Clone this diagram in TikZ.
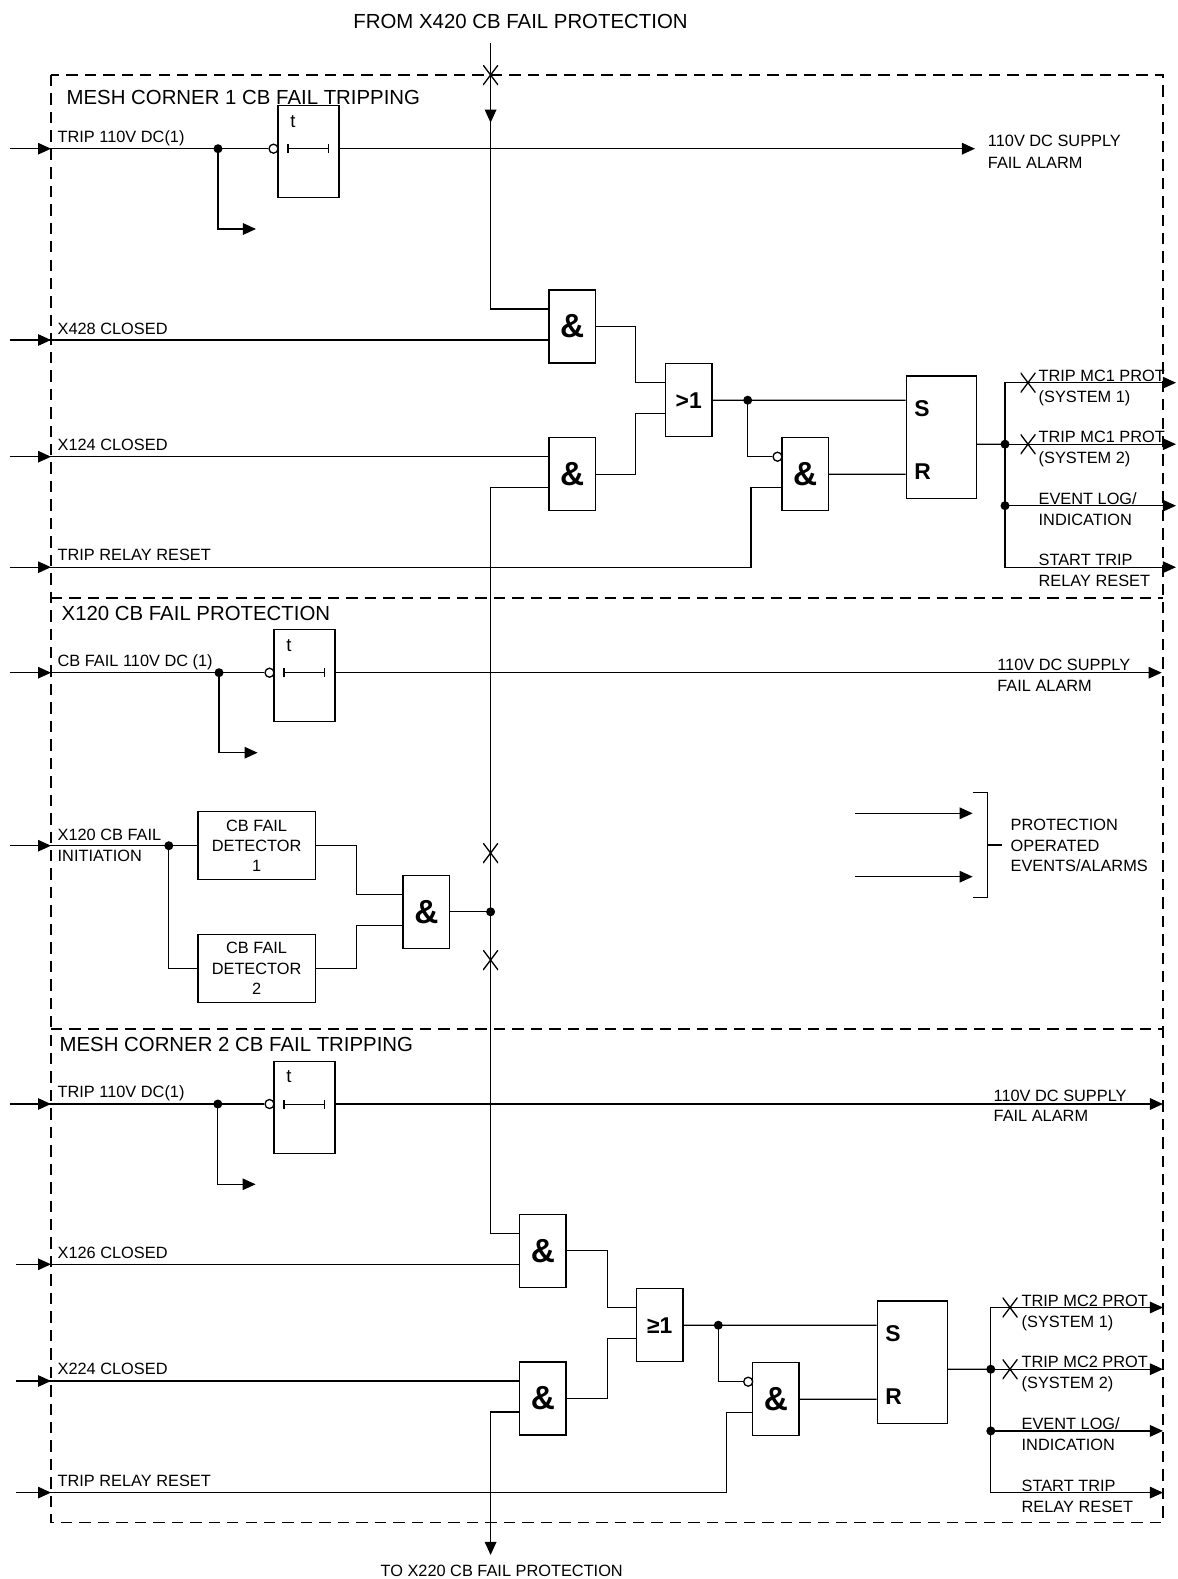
\documentclass[tikz,border=0pt]{standalone}
\usepackage{fontspec}
\setmainfont{Liberation Sans}
\usetikzlibrary{arrows.meta,calc}
\tikzset{
	lbl/.style={anchor=base west, font=\fontsize{9.3}{11.6}\selectfont},
	ttl/.style={anchor=base west, font=\fontsize{11.6}{14}\selectfont},
	gate/.style={draw=black, minimum width=0.93cm, minimum height=1.46cm, font=\fontsize{19}{20}\selectfont\bfseries},
	orgate/.style={gate, font=\fontsize{13}{14}\selectfont\bfseries},
	srbox/.style={draw=black, minimum width=1.4cm, minimum height=2.45cm},
	srtxt/.style={anchor=base west, font=\fontsize{13}{14}\selectfont\bfseries},
	timer/.style={draw=black, minimum width=1.22cm, minimum height=1.84cm},
	ttxt/.style={anchor=base, font=\fontsize{10.5}{12}\selectfont},
	detbox/.style={draw=black, minimum width=2.35cm, minimum height=1.36cm, align=center, font=\fontsize{9.3}{11.6}\selectfont},
	dot/.style={circle, fill=black, minimum size=0.18cm},
	inv/.style={circle, draw=black, fill=white, minimum size=0.18cm},
	linkx/.style={minimum width=0.3cm, minimum height=0.4cm, path picture={\draw [black] (path picture bounding box.north west) -- (path picture bounding box.south east) (path picture bounding box.south west) -- (path picture bounding box.north east);}},
	arr/.style={-{Triangle[length=0.26cm,width=0.23cm]}},
	frm/.style={draw=black, dash pattern=on 6.5pt off 4pt},
	tbar/.style={{Bar[width=0.18cm]}-{Bar[width=0.18cm]}}
}
\begin{document}
\begin{tikzpicture}[scale=0.2, line width=0.75pt]
	\tikzstyle{every node}+=[inner sep=0pt]
	\useasboundingbox (0,0) rectangle (117.8,-157.9);
	\draw [frm] (5.1,-7.5) rectangle (116.3,-152.27);
	\draw [frm] (5.1,-59.8) -- (116.3,-59.8);
	\draw [frm] (5.1,-102.9) -- (116.3,-102.9);
	\node [anchor=base, font=\fontsize{11.6}{14}\selectfont] (from) at (52.05,-2.8) {FROM X420 CB FAIL PROTECTION};
	\coordinate (top) at (49.06,-4.3);
	\coordinate (ta) at (49.06,-12.27);
	\node [linkx] (x1) at (49.06,-7.5) {};
	\node [ttl] (mc1) at (6.6,-10.45) {MESH CORNER 1 CB FAIL TRIPPING};
	\coordinate (i1) at (1.0,-14.87);
	\coordinate (i2) at (1.0,-34.0);
	\coordinate (i3) at (1.0,-45.67);
	\coordinate (i4) at (1.0,-56.72);
	\node [lbl] (l1) at (5.7,-14.27) {TRIP 110V DC(1)};
	\node [lbl] (l2) at (5.7,-33.4) {X428 CLOSED};
	\node [lbl] (l3) at (5.7,-45.0) {X124 CLOSED};
	\node [lbl] (l4) at (5.7,-56.05) {TRIP RELAY RESET};
	\node [dot] (d1) at (21.8,-14.87) {};
	\coordinate (b1) at (25.6,-22.9);
	\node [timer] (tm1) at (30.85,-15.17) {};
	\node [inv] (n1) at (27.35,-14.87) {};
	\node [ttxt] (t1) at ($(tm1.north west)+(1.55,-2.2)$) {t};
	\coordinate (o1) at (97.5,-14.87);
	\node [lbl] (lo1) at (98.73,-14.67) {110V DC SUPPLY};
	\node [lbl] (lo2) at (98.73,-16.83) {FAIL ALARM};
	\node [gate] (and1) at (57.22,-32.65) {\&};
	\node [gate] (and2) at (57.22,-47.42) {\&};
	\node [orgate] (or1) at (68.87,-40.02) {>1};
	\node [dot] (d2) at (74.77,-40.02) {};
	\node [inv] (n2) at (77.75,-45.67) {};
	\node [gate] (and5) at (80.52,-47.42) {\&};
	\node [srbox] (sr1) at (94.14,-43.72) {};
	\node [srtxt] (s1) at ($(sr1.west)+(0.8,2.1)$) {S};
	\node [srtxt] (r1) at ($(sr1.west)+(0.8,-4.2)$) {R};
	\node [dot] (d3) at (100.5,-44.42) {};
	\node [dot] (d4) at (100.5,-50.57) {};
	\coordinate (q1) at (117.6,-38.27);
	\coordinate (q2) at (117.6,-44.42);
	\coordinate (q3) at (117.6,-50.57);
	\coordinate (q4) at (117.6,-56.72);
	\node [linkx] (x2) at (102.8,-38.27) {};
	\node [linkx] (x3) at (102.8,-44.42) {};
	\node [lbl] (lq1) at (103.8,-38.12) {TRIP MC1 PROT};
	\node [lbl] (lq2) at (103.8,-40.22) {(SYSTEM 1)};
	\node [lbl] (lq3) at (103.8,-44.27) {TRIP MC1 PROT};
	\node [lbl] (lq4) at (103.8,-46.37) {(SYSTEM 2)};
	\node [lbl] (lq5) at (103.8,-50.42) {EVENT LOG/};
	\node [lbl] (lq6) at (103.8,-52.52) {INDICATION};
	\node [lbl] (lq7) at (103.8,-56.57) {START TRIP};
	\node [lbl] (lq8) at (103.8,-58.67) {RELAY RESET};
	\draw [black, arr] (top) -- (ta);
	\draw [black] (top) |- ($(and1.west)+(0,1.75)$);
	\draw [black, arr] (i1) -- ++(4.1,0);
	\draw [black] (i1) -- (n1.west);
	\draw [black, arr] (d1.center) |- (b1);
	\draw [black, arr] (tm1.east |- i1) -- (o1);
	\draw [black, tbar] ($(tm1.west)+(1.0,0.3)$) -- ($(tm1.east)+(-1.05,0.3)$);
	\draw [black, arr] (i2) -- ++(4.1,0);
	\draw [black] (i2) -- (i2 -| and1.west);
	\draw [black] (and1.east) -- ++(3.95,0) |- ($(or1.west)+(0,1.75)$);
	\draw [black, arr] (i3) -- ++(4.1,0);
	\draw [black] (i3) -- (i3 -| and2.west);
	\draw [black] (and2.east) -- ++(3.95,0) |- ($(or1.west)+(0,-1.35)$);
	\draw [black] (or1.east) -- ($(sr1.west)+(0,3.7)$);
	\draw [black] (d2.center) |- (n2.west);
	\draw [black] (and5.east) -- ($(sr1.west)+(0,-3.7)$);
	\draw [black, arr] (i4) -- ++(4.1,0);
	\draw [black] (i4) -- ++(74.1,0) |- ($(and5.west)+(0,-1.35)$);
	\draw [black] ($(sr1.east)+(0,-0.7)$) -- (d3.center);
	\draw [black, arr] (d3.center) |- (q1);
	\draw [black, arr] (d3.center) -- (q2);
	\draw [black, arr] (d3.center) |- (q4);
	\draw [black, arr] (d4.center) -- (q3);
	\node [ttl] (cbf) at (6.1,-62.07) {X120 CB FAIL PROTECTION};
	\coordinate (i5) at (1.0,-67.27);
	\coordinate (i6) at (1.0,-84.57);
	\node [lbl] (l5) at (5.7,-66.67) {CB FAIL 110V DC (1)};
	\node [lbl] (l6) at (5.7,-84.0) {X120 CB FAIL};
	\node [lbl] (l6b) at (5.7,-86.1) {INITIATION};
	\node [dot] (d5) at (21.9,-67.27) {};
	\coordinate (b2) at (25.76,-75.27);
	\node [timer] (tm2) at (30.45,-67.58) {};
	\node [inv] (n3) at (26.95,-67.27) {};
	\node [ttxt] (t2) at ($(tm2.north west)+(1.55,-2.2)$) {t};
	\coordinate (o2) at (116.17,-67.27);
	\node [lbl] (lo3) at (99.67,-67.0) {110V DC SUPPLY};
	\node [lbl] (lo4) at (99.67,-69.1) {FAIL ALARM};
	\node [dot] (d6) at (16.88,-84.57) {};
	\node [detbox] (det1) at (25.66,-84.57) {CB FAIL\\DETECTOR\\1};
	\node [detbox] (det2) at (25.66,-96.83) {CB FAIL\\DETECTOR\\2};
	\node [gate] (and6) at (42.64,-91.18) {\&};
	\node [dot] (d7) at (49.06,-91.18) {};
	\node [linkx] (x4) at (49.06,-85.3) {};
	\node [linkx] (x5) at (49.06,-96.0) {};
	\coordinate (p1) at (85.5,-81.33);
	\coordinate (p2) at (85.5,-87.67);
	\coordinate (pt1) at (97.27,-81.33);
	\coordinate (pt2) at (97.27,-87.67);
	\draw [black] (97.27,-79.27) -- (98.73,-79.27) -- (98.73,-89.73) -- (97.27,-89.73);
	\draw [black] (98.73,-84.5) -- (100.17,-84.5);
	\node [lbl] (pr1) at (101.0,-83.07) {PROTECTION};
	\node [lbl] (pr2) at (101.0,-85.17) {OPERATED};
	\node [lbl] (pr3) at (101.0,-87.17) {EVENTS/ALARMS};
	\draw [black, arr] (i5) -- ++(4.1,0);
	\draw [black] (i5) -- (n3.west);
	\draw [black, arr] (d5.center) |- (b2);
	\draw [black, arr] (tm2.east |- i5) -- (o2);
	\draw [black, tbar] ($(tm2.west)+(1.0,0.3)$) -- ($(tm2.east)+(-1.05,0.3)$);
	\draw [black, arr] (i6) -- ++(4.1,0);
	\draw [black] (i6) -- (det1.west);
	\draw [black] (d6.center) |- (det2.west);
	\draw [black] (det1.east) -- ++(4.07,0) |- ($(and6.west)+(0,1.75)$);
	\draw [black] (det2.east) -- ++(4.07,0) |- ($(and6.west)+(0,-1.35)$);
	\draw [black] (and6.east) -- (d7.center);
	\draw [black, arr] (p1) -- (pt1);
	\draw [black, arr] (p2) -- (pt2);
	\node [ttl] (mc2) at (5.9,-105.17) {MESH CORNER 2 CB FAIL TRIPPING};
	\coordinate (i7) at (1.0,-110.4);
	\coordinate (i8) at (1.6,-126.43);
	\coordinate (i9) at (1.6,-138.1);
	\coordinate (i10) at (1.6,-149.26);
	\node [lbl] (l7) at (5.7,-109.77) {TRIP 110V DC(1)};
	\node [lbl] (l8) at (5.7,-125.83) {X126 CLOSED};
	\node [lbl] (l9) at (5.7,-137.43) {X224 CLOSED};
	\node [lbl] (l10) at (5.7,-148.67) {TRIP RELAY RESET};
	\node [dot] (d8) at (21.78,-110.4) {};
	\coordinate (b3) at (25.56,-118.43);
	\node [timer] (tm3) at (30.45,-110.72) {};
	\node [inv] (n4) at (26.95,-110.4) {};
	\node [ttxt] (t3) at ($(tm3.north west)+(1.55,-2.2)$) {t};
	\coordinate (o3) at (116.3,-110.4);
	\node [lbl] (lo5) at (99.3,-110.17) {110V DC SUPPLY};
	\node [lbl] (lo6) at (99.3,-112.17) {FAIL ALARM};
	\node [gate] (and3) at (54.29,-125.08) {\&};
	\node [gate] (and4) at (54.29,-139.85) {\&};
	\node [orgate] (or2) at (65.98,-132.52) {≥1};
	\node [dot] (d9) at (71.83,-132.52) {};
	\node [inv] (n5) at (74.82,-138.17) {};
	\node [gate] (and7) at (77.59,-139.92) {\&};
	\node [srbox] (sr2) at (91.24,-136.22) {};
	\node [srtxt] (s2) at ($(sr2.west)+(0.8,2.1)$) {S};
	\node [srtxt] (r2) at ($(sr2.west)+(0.8,-4.2)$) {R};
	\node [dot] (d10) at (99.08,-136.92) {};
	\node [dot] (d11) at (99.08,-143.09) {};
	\coordinate (q5) at (116.3,-130.75);
	\coordinate (q6) at (116.3,-136.92);
	\coordinate (q7) at (116.3,-143.09);
	\coordinate (q8) at (116.3,-149.26);
	\node [linkx] (x6) at (101.0,-130.75) {};
	\node [linkx] (x7) at (101.0,-136.92) {};
	\node [lbl] (lq9) at (102.1,-130.6) {TRIP MC2 PROT};
	\node [lbl] (lq10) at (102.1,-132.7) {(SYSTEM 1)};
	\node [lbl] (lq11) at (102.1,-136.77) {TRIP MC2 PROT};
	\node [lbl] (lq12) at (102.1,-138.87) {(SYSTEM 2)};
	\node [lbl] (lq13) at (102.1,-142.94) {EVENT LOG/};
	\node [lbl] (lq14) at (102.1,-145.04) {INDICATION};
	\node [lbl] (lq15) at (102.1,-149.11) {START TRIP};
	\node [lbl] (lq16) at (102.1,-151.21) {RELAY RESET};
	\coordinate (bot) at (49.06,-155.5);
	\node [lbl, anchor=base] (to) at (50.17,-157.67) {TO X220 CB FAIL PROTECTION};
	\draw [black, arr] (i7) -- ++(4.1,0);
	\draw [black] (i7) -- (n4.west);
	\draw [black, arr] (d8.center) |- (b3);
	\draw [black, arr] (tm3.east |- i7) -- (o3);
	\draw [black, tbar] ($(tm3.west)+(1.0,0.3)$) -- ($(tm3.east)+(-1.05,0.3)$);
	\draw [black] ($(and2.west)+(0,-1.35)$) -| (d7.center) |- ($(and3.west)+(0,1.75)$);
	\draw [black, arr] (i8) -- ++(3.5,0);
	\draw [black] (i8) -- (i8 -| and3.west);
	\draw [black, arr] (i9) -- ++(3.5,0);
	\draw [black] (i9) -- (i9 -| and4.west);
	\draw [black] (and3.east) -- ++(4.08,0) |- ($(or2.west)+(0,1.75)$);
	\draw [black] (and4.east) -- ++(4.08,0) |- ($(or2.west)+(0,-1.35)$);
	\draw [black] (or2.east) -- ($(sr2.west)+(0,3.7)$);
	\draw [black] (d9.center) |- (n5.west);
	\draw [black] (and7.east) -- ($(sr2.west)+(0,-3.7)$);
	\draw [black, arr] (i10) -- ++(3.5,0);
	\draw [black] (i10) -- ++(71.02,0) |- ($(and7.west)+(0,-1.35)$);
	\draw [black] ($(sr2.east)+(0,-0.7)$) -- (d10.center);
	\draw [black, arr] (d10.center) |- (q5);
	\draw [black, arr] (d10.center) -- (q6);
	\draw [black, arr] (d10.center) |- (q8);
	\draw [black, arr] (d11.center) -- (q7);
	\draw [black, arr] ($(and4.west)+(0,-1.35)$) -| (bot);
\end{tikzpicture}
\end{document}
